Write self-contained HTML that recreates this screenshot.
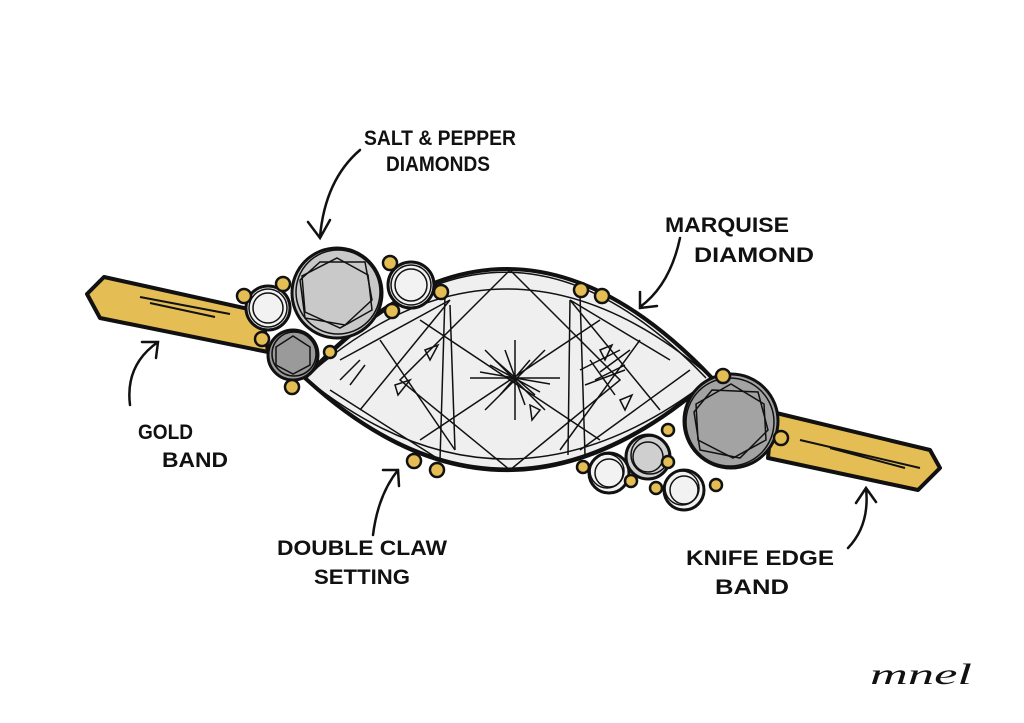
<!DOCTYPE html>
<html><head><meta charset="utf-8"><style>
html,body{margin:0;padding:0;background:#fff;}
svg{display:block}
text{font-family:"Liberation Sans","DejaVu Sans",sans-serif;font-weight:bold;fill:#111}
</style></head><body>
<svg width="1024" height="723" viewBox="0 0 1024 723" xmlns="http://www.w3.org/2000/svg">
<rect width="1024" height="723" fill="#fff"/>
<g stroke="#111" stroke-width="4" stroke-linejoin="round" fill="#e4bd55">
 <polygon points="87,294 104,277 262,312 268,352 100,318"/>
 <polygon points="772,412 930,450 940,468 918,490 768,458"/>
</g>
<g stroke="#111" stroke-width="2" fill="none">
 <path d="M140,297 L230,314 M150,303 L215,317"/>
 <path d="M800,440 L920,468 M830,448 L905,468"/>
</g>
<!-- marquise -->
<path d="M305,378 Q505,160 712,378 Q505,562 305,378 Z" fill="#efefef" stroke="#111" stroke-width="4"/>
<path d="M310,375 Q505,168 706,378 M310,381 Q505,556 708,380" fill="none" stroke="#111" stroke-width="1.5"/>
<g stroke="#111" stroke-width="1.5" fill="none">
 <path d="M305,378 Q505,200 712,378 M305,378 Q505,540 712,378"/>
 <path d="M450,305 L455,450 M570,300 L568,455 M510,270 L400,380 L510,470 L620,380 Z"/>
 <path d="M340,360 L450,300 L360,410 M670,360 L570,300 L660,410"/>
 <path d="M380,340 L455,450 M640,340 L560,450 M420,320 L600,440 M600,320 L420,440"/>
 <path d="M470,378 L560,378 M515,340 L515,420 M485,350 L545,410 M545,350 L485,410 M490,365 L540,392"/>
 <path d="M495,360 L535,395 M500,395 L530,360 M505,350 L525,405 M480,372 L550,384"/>
 <path d="M580,370 L620,350 M585,385 L625,370 M590,360 L615,395"/>
 <path d="M340,380 L360,360 M350,385 L365,365 M600,372 L630,350 M595,380 L625,365"/>
 <path d="M330,390 L440,460 M690,370 L580,450 M445,295 L440,460 M580,295 L585,455"/>
 <path d="M395,385 L410,380 L398,395Z M425,350 L438,345 L430,360Z M530,405 L540,410 L532,420Z M600,350 L612,345 L605,360Z M620,400 L632,395 L625,410Z"/>
</g>
<!-- stones -->
<g stroke="#111" stroke-width="3">
 <circle cx="337" cy="293" r="45" fill="#c9c9c9"/>
 <circle cx="293" cy="355" r="25" fill="#9a9a9a"/>
 <circle cx="268" cy="308" r="22" fill="#f2f2f2"/>
 <circle cx="411" cy="285" r="23" fill="#f2f2f2"/>
 <circle cx="731" cy="421" r="47" fill="#a3a3a3"/>
 <circle cx="648" cy="457" r="22" fill="#cfcfcf"/>
 <circle cx="609" cy="473" r="20" fill="#f2f2f2"/>
 <circle cx="684" cy="490" r="20" fill="#f2f2f2"/>
</g>
<g stroke="#111" stroke-width="1.5" fill="none">
 <circle cx="338" cy="292" r="42"/><circle cx="730" cy="422" r="44"/>
 <circle cx="294" cy="354" r="22"/><circle cx="268" cy="308" r="19"/><circle cx="411" cy="285" r="20"/>
 <polygon points="337,258 368,275 372,310 340,328 305,312 302,276"/>
 <polygon points="320,262 365,262 372,300 345,325 305,318 300,280"/>
 <polygon points="731,384 764,404 766,440 733,458 698,440 696,404"/>
 <polygon points="712,390 758,392 768,430 740,458 700,450 694,412"/>
 <polygon points="293,336 310,347 310,365 293,374 276,365 276,347"/>
 <circle cx="268" cy="308" r="15"/><circle cx="411" cy="285" r="16"/>
 <circle cx="648" cy="457" r="15"/><circle cx="609" cy="473" r="14"/><circle cx="684" cy="490" r="14"/>
 <circle cx="650" cy="455" r="19"/><circle cx="607" cy="471" r="17"/><circle cx="682" cy="488" r="17"/>
</g>
<!-- claws -->
<g fill="#e4bd55" stroke="#111" stroke-width="2.5">
 <circle cx="244" cy="296" r="7"/><circle cx="283" cy="284" r="7"/><circle cx="390" cy="263" r="7"/>
 <circle cx="441" cy="292" r="7"/><circle cx="262" cy="339" r="7"/><circle cx="292" cy="387" r="7"/>
 <circle cx="392" cy="311" r="7"/><circle cx="330" cy="352" r="6"/>
 <circle cx="581" cy="290" r="7"/><circle cx="602" cy="296" r="7"/><circle cx="723" cy="376" r="7"/>
 <circle cx="781" cy="438" r="7"/><circle cx="414" cy="461" r="7"/><circle cx="437" cy="470" r="7"/>
 <circle cx="583" cy="467" r="6"/><circle cx="631" cy="481" r="6"/><circle cx="656" cy="488" r="6"/>
 <circle cx="716" cy="485" r="6"/><circle cx="668" cy="462" r="6"/><circle cx="668" cy="430" r="6"/>
</g>
<!-- arrows -->
<g stroke="#111" stroke-width="2.5" fill="none" stroke-linecap="round">
 <path d="M360,150 Q325,180 320,237 M308,222 L320,238 L330,220"/>
 <path d="M680,238 Q670,285 640,307 M640,292 L640,308 L657,306"/>
 <path d="M130,405 Q125,365 158,342 M142,342 L158,342 L156,358"/>
 <path d="M373,535 Q378,495 398,470 M383,470 L398,470 L399,486"/>
 <path d="M848,548 Q870,525 866,488 M856,503 L866,488 L876,502"/>
</g>
<!-- labels -->
<g font-size="21">
 <text x="364" y="145" textLength="152" lengthAdjust="spacingAndGlyphs">SALT &amp; PEPPER</text>
 <text x="386" y="171" textLength="104" lengthAdjust="spacingAndGlyphs">DIAMONDS</text>
 <text x="665" y="232" textLength="124" lengthAdjust="spacingAndGlyphs">MARQUISE</text>
 <text x="694" y="262" textLength="120" lengthAdjust="spacingAndGlyphs">DIAMOND</text>
 <text x="138" y="439" textLength="55" lengthAdjust="spacingAndGlyphs">GOLD</text>
 <text x="162" y="467" textLength="66" lengthAdjust="spacingAndGlyphs">BAND</text>
 <text x="277" y="555" textLength="170" lengthAdjust="spacingAndGlyphs">DOUBLE CLAW</text>
 <text x="314" y="584" textLength="96" lengthAdjust="spacingAndGlyphs">SETTING</text>
 <text x="686" y="565" textLength="148" lengthAdjust="spacingAndGlyphs">KNIFE EDGE</text>
 <text x="715" y="594" textLength="74" lengthAdjust="spacingAndGlyphs">BAND</text>
</g>
<text x="870" y="684" font-size="30" textLength="102" lengthAdjust="spacingAndGlyphs" style="font-family:'Liberation Serif',serif;font-style:italic;font-weight:normal">mnel</text>
</svg>
</body></html>
